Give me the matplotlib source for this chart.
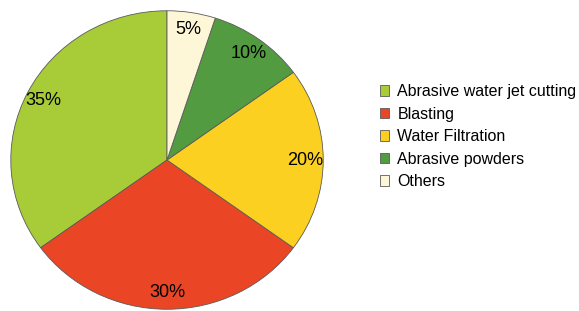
import matplotlib
matplotlib.use("Agg")
import matplotlib.pyplot as plt
from matplotlib.patches import Patch

plt.rcParams["font.family"] = ["Liberation Sans", "DejaVu Sans"]

labels = ["Abrasive water jet cutting", "Blasting", "Water Filtration",
          "Abrasive powders", "Others"]
shares = [35, 30, 20, 10, 5]
colors = ["#a8cb38", "#ea4626", "#fbd021", "#529b40", "#fdf7d8"]

fig = plt.figure(figsize=(5.79, 3.11), dpi=100)
ax = fig.add_axes([0.0173, 0.0032, 0.5423, 0.9646])

wedges, texts, autotexts = ax.pie(
    shares, colors=colors, startangle=90, counterclock=True,
    autopct="%d%%", pctdistance=0.885,
    wedgeprops=dict(edgecolor="#5a5a5a", linewidth=0.6),
    textprops=dict(fontsize=13, color="black"),
)
ax.set_aspect("auto")
ax.set_xlim(-1.005, 1.005)
ax.set_ylim(-1.005, 1.005)

handles = [Patch(facecolor=c, edgecolor="#5a5a5a", linewidth=0.6) for c in colors]
fig.legend(handles, labels, loc="upper left", bbox_to_anchor=(0.645, 0.75),
           frameon=False, fontsize=11.5, handlelength=0.6, handleheight=0.6,
           handletextpad=0.5, labelspacing=0.47, borderaxespad=0)

fig.savefig("out.png", dpi=100)
